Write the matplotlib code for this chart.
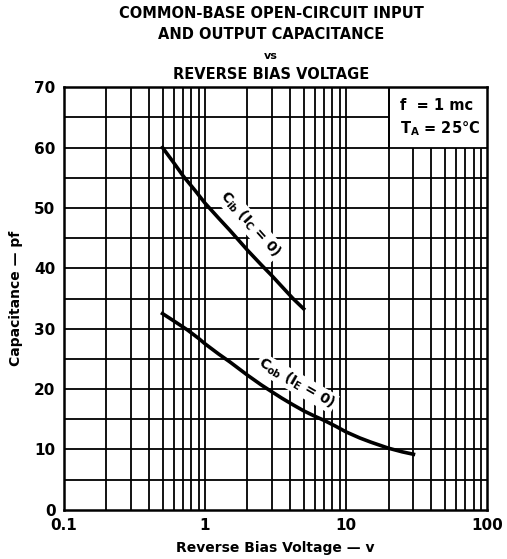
import numpy as np
import matplotlib.pyplot as plt

# curve values
cib_v = [0.5, 0.6, 0.7, 0.85, 1.0, 1.25, 1.5, 2.0, 2.5, 3.0, 3.5, 4.2, 5.0]
cib_c = [60.0, 57.5, 55.3, 52.9, 50.8, 48.3, 46.3, 43.0, 40.6, 38.7, 37.0, 35.0, 33.3]

cob_v = [0.5, 0.6, 0.75, 0.9, 1.0, 1.25, 1.5, 2.0, 2.5, 3.0, 3.5, 4.2, 5.0, 6.0,
         7.0, 8.5, 10.0, 12.5, 15.0, 20.0, 25.0, 30.0]
cob_c = [32.5, 31.3, 29.8, 28.4, 27.5, 25.8, 24.5, 22.3, 20.7, 19.5, 18.5, 17.4, 16.4, 15.5,
         14.8, 13.8, 12.9, 11.9, 11.2, 10.2, 9.6, 9.2]

x_ticks = [0.1, 1, 10, 100]
x_tick_labels = ['0.1', '1', '10', '100']
y_ticks = [0, 10, 20, 30, 40, 50, 60, 70]

plt.rcParams['font.family'] = ['DejaVu Sans']
plt.rcParams['font.weight'] = 'bold'
plt.rcParams['mathtext.default'] = 'regular'

fig = plt.figure(figsize=(5.07, 5.59), dpi=100)
ax = fig.add_axes([0.126, 0.088, 0.835, 0.756])
ax.set_xscale('log')
ax.set_xlim(0.1, 100)
ax.set_ylim(0, 70)

# grid drawn by hand so the note box stays clear
minor = [m * d for d in (0.1, 1, 10) for m in range(2, 10)] + [1, 10]
for x in minor:
    top = 60 if x > 20 else 70
    ax.vlines(x, 0, top, color='black', lw=1.3, zorder=1)
for y in range(5, 70, 5):
    right = 20 if y == 65 else 100
    ax.hlines(y, 0.1, right, color='black', lw=1.3, zorder=1)
ax.vlines(20, 60, 70, color='black', lw=1.3, zorder=1)

ax.plot(cib_v, cib_c, color='black', lw=2.6, zorder=3, solid_joinstyle='round')
ax.plot(cob_v, cob_c, color='black', lw=2.6, zorder=3, solid_joinstyle='round')

bbox = dict(facecolor='white', edgecolor='none', pad=1.0)
ax.text(2.08, 47.4, r'C$_{ib}$ (I$_C$ = 0)', rotation=-48, fontsize=10,
        ha='center', va='center', bbox=bbox, zorder=2, rotation_mode='anchor')
ax.text(4.45, 21.0, r'C$_{ob}$ (I$_E$ = 0)', rotation=-30, fontsize=10,
        ha='center', va='center', bbox=bbox, zorder=2, rotation_mode='anchor')

ax.text(23.9, 67.0, 'f  = 1 mc', fontsize=10.5, va='center', zorder=4)
ax.text(23.9, 63.2, r'T$_A$ = 25°C', fontsize=10.5, va='center', zorder=4)

ax.set_xticks(x_ticks)
ax.set_xticklabels(x_tick_labels)
ax.set_yticks(y_ticks)
ax.minorticks_off()
ax.tick_params(length=0, labelsize=11, pad=6)
for lab in ax.get_xticklabels() + ax.get_yticklabels():
    lab.set_fontweight('bold')
for s in ax.spines.values():
    s.set_linewidth(1.8)

ax.set_xlabel('Reverse Bias Voltage — v', fontsize=10, fontweight='bold', labelpad=6)
ax.set_ylabel('Capacitance — pf', fontsize=10, fontweight='bold', labelpad=8)

fig.text(0.535, 0.975, 'COMMON-BASE OPEN-CIRCUIT INPUT', ha='center', va='center',
         fontsize=10.5, fontweight='bold')
fig.text(0.535, 0.939, 'AND OUTPUT CAPACITANCE', ha='center', va='center',
         fontsize=10.5, fontweight='bold')
fig.text(0.535, 0.899, 'vs', ha='center', va='center', fontsize=8, fontweight='bold')
fig.text(0.535, 0.866, 'REVERSE BIAS VOLTAGE', ha='center', va='center',
         fontsize=10.5, fontweight='bold')

fig.savefig('out.png', dpi=100)
